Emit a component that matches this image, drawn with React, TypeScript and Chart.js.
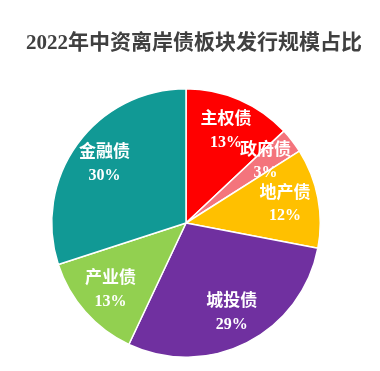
import React, { useEffect, useRef } from "react";
import { Chart, registerables } from "chart.js";

Chart.register(...registerables);

const TITLE = "2022年中资离岸债板块发行规模占比";
const categories = ["主权债", "政府债", "地产债", "城投债", "产业债", "金融债"];
const shares = [13, 3, 12, 29, 13, 30];
const colors = ["#FF0000", "#F4747C", "#FFC000", "#7030A0", "#92D050", "#119995"];

const FONT = "'Liberation Serif', 'Noto Sans CJK SC', serif";

const labelPlugin = {
  id: "sliceLabels",
  afterDatasetsDraw(chart: any) {
    const ctx = chart.ctx;
    const meta = chart.getDatasetMeta(0);
    ctx.save();
    ctx.fillStyle = "#FFFFFF";
    ctx.textAlign = "center";
    ctx.textBaseline = "middle";
    meta.data.forEach((arc: any, i: number) => {
      const p = arc.getProps(["x", "y", "startAngle", "endAngle", "outerRadius"], true);
      const mid = (p.startAngle + p.endAngle) / 2;
      const r = p.outerRadius * 0.75;
      const cx = p.x + Math.cos(mid) * r;
      const cy = p.y + Math.sin(mid) * r;
      ctx.font = `bold 17px ${FONT}`;
      ctx.fillText(categories[i], cx, cy - 11);
      ctx.font = `bold 16px ${FONT}`;
      ctx.fillText(`${shares[i]}%`, cx, cy + 12);
    });
    ctx.restore();
  },
  afterDraw(chart: any) {
    const ctx = chart.ctx;
    ctx.save();
    ctx.fillStyle = "#404040";
    ctx.textAlign = "center";
    ctx.textBaseline = "middle";
    ctx.font = `bold 21px ${FONT}`;
    ctx.fillText(TITLE, 194, 44);
    ctx.restore();
  },
};

export default function App() {
  const ref = useRef<HTMLCanvasElement | null>(null);
  useEffect(() => {
    if (!ref.current) return;
    const chart = new Chart(ref.current, {
      type: "pie",
      data: {
        labels: categories,
        datasets: [
          {
            data: shares,
            backgroundColor: colors,
            borderColor: "#FFFFFF",
            borderWidth: 1.5,
            hoverOffset: 0,
          },
        ],
      },
      options: {
        animation: false,
        responsive: false,
        maintainAspectRatio: false,
        layout: { padding: { left: 51, right: 59, top: 88, bottom: 13 } },
        plugins: {
          legend: { display: false },
          title: { display: false },
          tooltip: { enabled: false },
        },
      },
      plugins: [labelPlugin],
    });
    return () => chart.destroy();
  }, []);
  return (
    <div style={{ position: "fixed", left: 0, top: 0, width: 380, height: 371, background: "#FFFFFF" }}>
      <canvas ref={ref} width={380} height={371} style={{ width: 380, height: 371, display: "block" }} />
    </div>
  );
}
